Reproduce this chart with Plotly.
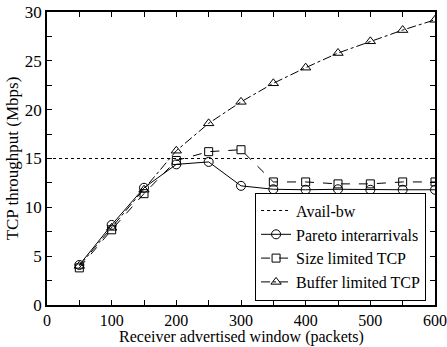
import plotly.graph_objects as go

window = [50, 100, 150, 200, 250, 300, 350, 400, 450, 500, 550, 600]
pareto = [4.1, 8.2, 12.0, 14.4, 14.65, 12.2, 11.85, 11.8, 11.85, 11.8, 11.8, 11.8]
size_limited = [3.8, 7.7, 11.4, 14.8, 15.7, 15.9, 12.6, 12.6, 12.4, 12.4, 12.6, 12.6]
buffer_limited = [4.0, 7.9, 11.8, 15.8, 18.6, 20.8, 22.7, 24.3, 25.8, 27.0, 28.15, 29.2]
avail_x = [0, 600]
avail_bw = [15, 15]

FONT = "Liberation Serif"

fig = go.Figure()
fig.add_trace(go.Scatter(x=avail_x, y=avail_bw, mode="lines", name="Avail-bw",
                         line=dict(color="black", width=1, dash="dot")))
fig.add_trace(go.Scatter(x=window, y=pareto, mode="lines+markers", name="Pareto interarrivals",
                         line=dict(color="black", width=1),
                         marker=dict(symbol="circle-open", size=9, color="black", line=dict(width=1))))
fig.add_trace(go.Scatter(x=window, y=size_limited, mode="lines+markers", name="Size limited TCP",
                         line=dict(color="black", width=1, dash="dash"),
                         marker=dict(symbol="square-open", size=8, color="black", line=dict(width=1))))
fig.add_trace(go.Scatter(x=window, y=buffer_limited, mode="lines+markers", name="Buffer limited TCP",
                         line=dict(color="black", width=1, dash="dashdot"),
                         marker=dict(symbol="triangle-up-open", size=9, color="black", line=dict(width=1))))

axis_common = dict(showgrid=False, zeroline=False, showline=True, linecolor="black", linewidth=1.5,
                   mirror="ticks", ticks="inside", ticklen=5, tickcolor="black", automargin=False,
                   ticklabeloverflow="allow")

fig.update_xaxes(range=[0, 600], dtick=100, tick0=0,
                 tickfont=dict(family=FONT, size=16, color="black"),
                 minor=dict(dtick=50, ticks="inside", ticklen=5, tickcolor="black"),
                 **axis_common)
fig.update_yaxes(range=[0, 30], dtick=5, tick0=0,
                 tickfont=dict(family=FONT, size=17, color="black"),
                 minor=dict(dtick=2.5, ticks="inside", ticklen=5, tickcolor="black"),
                 title=dict(text="TCP throughput (Mbps)", standoff=2,
                            font=dict(family=FONT, size=17, color="black")),
                 **axis_common)

fig.add_annotation(text="Receiver advertised window (packets)", xref="paper", yref="paper",
                   x=0.5, y=0, xanchor="center", yanchor="bottom", yshift=-43, showarrow=False,
                   font=dict(family=FONT, size=16, color="black"))

fig.update_layout(
    width=447, height=347,
    margin=dict(l=47, r=12, t=12, b=42),
    paper_bgcolor="white", plot_bgcolor="white",
    font=dict(family=FONT, color="black"),
    legend=dict(x=0.977, y=0.015, xanchor="right", yanchor="bottom",
                bgcolor="white", bordercolor="black", borderwidth=1,
                font=dict(family=FONT, size=16, color="black"),
                tracegroupgap=0, itemwidth=30),
    showlegend=True,
)

fig.write_html("out.html")
